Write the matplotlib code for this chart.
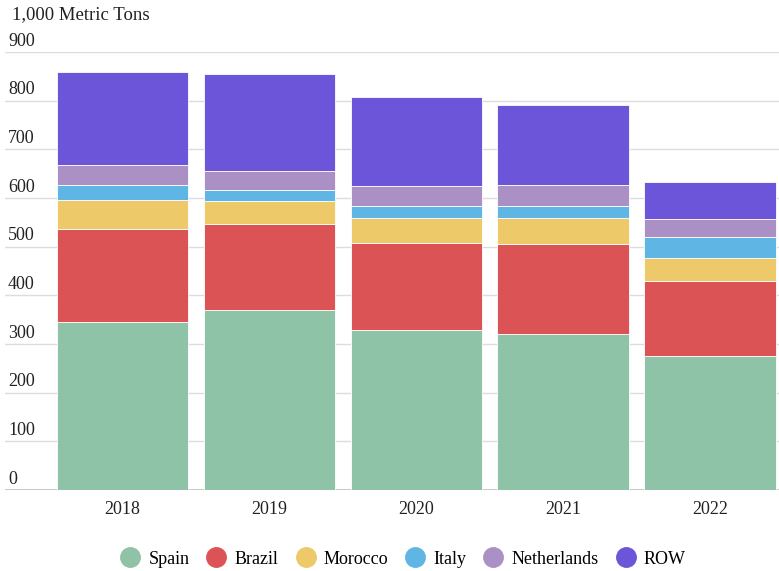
import matplotlib.pyplot as plt
import matplotlib.transforms as mtransforms
from matplotlib.lines import Line2D
import numpy as np

plt.rcParams["font.family"] = ["Liberation Serif", "DejaVu Serif"]

years = ["2018", "2019", "2020", "2021", "2022"]
countries = ["Spain", "Brazil", "Morocco", "Italy", "Netherlands", "ROW"]
spain = [345, 369, 328, 320, 276]
brazil = [192, 178, 180, 186, 154]
morocco = [58, 46, 51, 52, 47]
italy = [31, 24, 24, 25, 43]
netherlands = [42, 39, 42, 44, 36]
row = [190, 199, 182, 165, 77]
yticks = [0, 100, 200, 300, 400, 500, 600, 700, 800, 900]

colors = ["#8fc3a7", "#dc5356", "#eec96a", "#5fb5e3", "#ab90c6", "#6d55da"]
series = [spain, brazil, morocco, italy, netherlands, row]

fig = plt.figure(figsize=(7.79, 5.71), dpi=100)
ax = fig.add_axes([0.0064, 0.1419, 0.9936, 0.7671])

x = np.arange(len(years))
bottom = np.zeros(len(years))
for vals, col in zip(series, colors):
    ax.bar(x, vals, bottom=bottom, width=0.895, color=col,
           edgecolor="#ffffff", linewidth=0.6, zorder=2)
    bottom += np.array(vals)

ax.set_xlim(-0.8, 4.47)
ax.set_ylim(0, 900)

# horizontal grid, baseline a bit darker
for t in yticks:
    ax.axhline(t, color="#c8c8c8" if t == 0 else "#dcdcdc",
               lw=1.4 if t == 0 else 1.0, zorder=1)

# value labels sit inside the plot, above each grid line
trans = mtransforms.blended_transform_factory(fig.transFigure, ax.transData)
for t in yticks:
    ax.text(8 / 779, t + 5, str(t), transform=trans, ha="left", va="bottom",
            fontsize=13, color="#222222", clip_on=False)

for s in ax.spines.values():
    s.set_visible(False)
ax.set_yticks([])
ax.set_xticks(x)
ax.set_xticklabels(years, fontsize=13, color="#222222")
ax.tick_params(axis="x", length=0, pad=8)

fig.text(12 / 779, 1 - 15 / 571, "1,000 Metric Tons", ha="left", va="center",
         fontsize=13.5, color="#222222")

handles = [Line2D([], [], marker="o", linestyle="none", markersize=14,
                  markerfacecolor=c, markeredgecolor=c) for c in colors]
fig.legend(handles, countries, loc="center", bbox_to_anchor=(0.518, 1 - 559 / 571),
           ncol=6, frameon=False, fontsize=13, handletextpad=0.5,
           columnspacing=1.0, handlelength=1.0)

fig.savefig("out.png", dpi=100)
